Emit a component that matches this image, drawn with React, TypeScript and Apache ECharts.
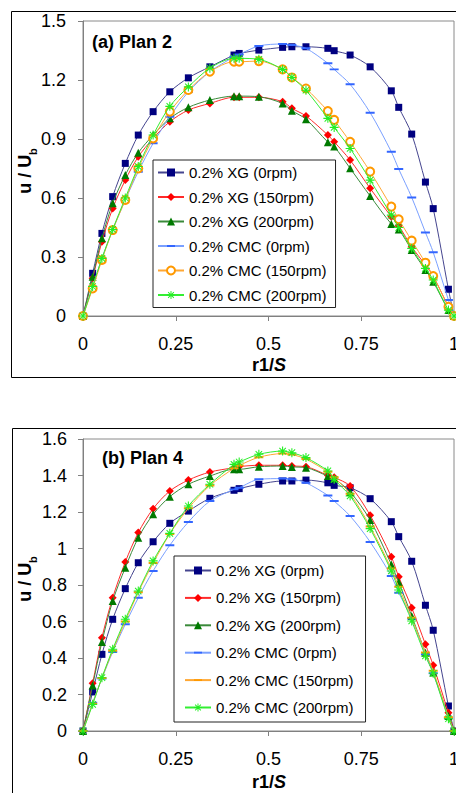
import React, { useEffect, useRef } from 'react';
import * as echarts from 'echarts';

// r1/S positions of the measurement points
const R1S = [0, 0.026, 0.051, 0.08, 0.114, 0.149, 0.189, 0.234, 0.284, 0.342, 0.407, 0.421, 0.474, 0.538, 0.563, 0.601, 0.66, 0.677, 0.72, 0.774, 0.831, 0.851, 0.886, 0.923, 0.944, 0.985, 1.0];

const SERIES_NAMES = ['0.2% XG (0rpm)', '0.2% XG (150rpm)', '0.2% XG (200rpm)', '0.2% CMC (0rpm)', '0.2% CMC (150rpm)', '0.2% CMC (200rpm)'];

// (a) Plan 2
const P2_XG0 = [0, 0.217, 0.42, 0.607, 0.776, 0.92, 1.039, 1.14, 1.211, 1.267, 1.327, 1.335, 1.352, 1.366, 1.369, 1.369, 1.361, 1.349, 1.327, 1.267, 1.145, 1.061, 0.925, 0.681, 0.546, 0.136, 0];
const P2_XG150 = [0, 0.192, 0.378, 0.547, 0.691, 0.81, 0.903, 0.988, 1.047, 1.081, 1.112, 1.112, 1.112, 1.09, 1.056, 1.017, 0.92, 0.886, 0.793, 0.649, 0.505, 0.459, 0.352, 0.259, 0.203, 0.047, 0];
const P2_XG200 = [0, 0.2, 0.395, 0.573, 0.717, 0.83, 0.92, 1.005, 1.061, 1.098, 1.118, 1.118, 1.115, 1.081, 1.044, 1.001, 0.884, 0.862, 0.751, 0.61, 0.468, 0.44, 0.336, 0.234, 0.174, 0.03, 0];
const P2_CMC0 = [0, 0.149, 0.293, 0.437, 0.59, 0.734, 0.878, 1.013, 1.14, 1.242, 1.318, 1.33, 1.373, 1.383, 1.378, 1.361, 1.285, 1.254, 1.178, 1.034, 0.835, 0.747, 0.603, 0.425, 0.324, 0.081, 0];
const P2_CMC150 = [0, 0.14, 0.285, 0.437, 0.59, 0.75, 0.903, 1.039, 1.149, 1.242, 1.293, 1.293, 1.296, 1.254, 1.213, 1.157, 1.042, 0.997, 0.886, 0.734, 0.556, 0.492, 0.383, 0.271, 0.203, 0.047, 0];
const P2_CMC200 = [0, 0.15, 0.293, 0.44, 0.6, 0.76, 0.92, 1.066, 1.165, 1.26, 1.31, 1.31, 1.305, 1.254, 1.213, 1.148, 1.005, 0.959, 0.852, 0.691, 0.513, 0.45, 0.344, 0.242, 0.183, 0.03, 0];

// (b) Plan 4
const P4_XG0 = [0, 0.214, 0.42, 0.612, 0.78, 0.922, 1.037, 1.138, 1.205, 1.275, 1.319, 1.328, 1.352, 1.37, 1.37, 1.375, 1.36, 1.346, 1.333, 1.273, 1.147, 1.065, 0.93, 0.689, 0.552, 0.137, 0];
const P4_XG150 = [0, 0.261, 0.511, 0.73, 0.926, 1.087, 1.218, 1.315, 1.375, 1.419, 1.443, 1.449, 1.456, 1.456, 1.452, 1.448, 1.401, 1.39, 1.342, 1.182, 0.955, 0.845, 0.676, 0.475, 0.36, 0.1, 0];
const P4_XG200 = [0, 0.25, 0.488, 0.712, 0.895, 1.059, 1.187, 1.284, 1.352, 1.397, 1.434, 1.434, 1.448, 1.452, 1.447, 1.443, 1.397, 1.383, 1.31, 1.156, 0.913, 0.816, 0.63, 0.429, 0.32, 0.082, 0];
const P4_CMC0 = [0, 0.155, 0.287, 0.433, 0.585, 0.73, 0.877, 1.018, 1.145, 1.26, 1.324, 1.333, 1.379, 1.383, 1.38, 1.36, 1.291, 1.26, 1.178, 1.036, 0.849, 0.758, 0.616, 0.42, 0.316, 0.073, 0];
const P4_CMC150 = [0, 0.15, 0.29, 0.44, 0.6, 0.76, 0.92, 1.08, 1.22, 1.345, 1.44, 1.455, 1.5, 1.52, 1.515, 1.49, 1.42, 1.39, 1.3, 1.12, 0.89, 0.79, 0.62, 0.43, 0.33, 0.075, 0];
const P4_CMC200 = [0, 0.146, 0.292, 0.448, 0.612, 0.767, 0.932, 1.083, 1.233, 1.352, 1.461, 1.474, 1.516, 1.534, 1.525, 1.498, 1.425, 1.379, 1.288, 1.109, 0.877, 0.773, 0.603, 0.411, 0.316, 0.067, 0];

const X_TICKS = [0, 0.25, 0.5, 0.75, 1];

const FONT = '"Liberation Sans", Arial, sans-serif';
const ASTERISK = 'path://M0,4.4L10,4.4L10,5.6L0,5.6Z M4.4,0L5.6,0L5.6,10L4.4,10Z M1,1.8L1.8,1L9,8.2L8.2,9Z M8.2,1L9,1.8L1.8,9L1,8.2Z';
const DASH = 'path://M0,3.9L10,3.9L10,6.1L0,6.1Z M0,0L0.01,0L0,0.01Z M10,10L9.99,10L10,9.99Z';

type Sty = { symbol: string; size: number; marker: string; line: string; empty?: boolean };

const STYLES_A: Sty[] = [
  { symbol: 'rect', size: 7, marker: '#000080', line: '#45458f' },
  { symbol: 'diamond', size: 8, marker: '#ff0000', line: '#ff2a2a' },
  { symbol: 'triangle', size: 8, marker: '#007a00', line: '#3a8a3a' },
  { symbol: DASH, size: 9, marker: '#3366ff', line: '#7aa0ff' },
  { symbol: 'emptyCircle', size: 8, marker: '#ff9900', line: '#ffa733', empty: true },
  { symbol: ASTERISK, size: 9, marker: '#22ee22', line: '#33ee33' },
];
const STYLES_B: Sty[] = [
  STYLES_A[0], STYLES_A[1], STYLES_A[2], STYLES_A[3],
  { symbol: DASH, size: 9, marker: '#ff9900', line: '#ffa733' },
  STYLES_A[5],
];

interface Cfg {
  values: number[][];
  styles: Sty[];
  yMax: number;
  yInterval: number;
  gridTop: number;
  gridHeight: number;
  labelMarginY: number;
  boxY: number;
  boxH: number;
  boxX: number;
  title: string;
  titleX: number;
  titleY: number;
  yTitleY: number;
  xTitleY: number;
  legend: { left: number; top: number; padding: number[]; gap: number };
}

function buildOption(c: Cfg): any {
  const fmt = (v: number) => String(+v.toFixed(2));
  return {
    animation: false,
    grid: {
      left: 83, top: c.gridTop, width: 371, height: c.gridHeight,
      outerBoundsMode: 'none', containLabel: false,
      show: true, borderColor: '#8a8a8a', borderWidth: 1, backgroundColor: '#ffffff',
    },
    xAxis: {
      type: 'value', min: X_TICKS[0], max: X_TICKS[X_TICKS.length - 1], interval: 0.25,
      axisLine: { show: true, lineStyle: { color: '#808080', width: 1 } },
      axisTick: { show: true, length: 5, lineStyle: { color: '#808080' } },
      axisLabel: { fontSize: 18, color: '#000', fontFamily: FONT, margin: 19, formatter: fmt, hideOverlap: false },
      splitLine: { show: false },
    },
    yAxis: {
      type: 'value', min: 0, max: c.yMax, interval: c.yInterval,
      axisLine: { show: true, lineStyle: { color: '#808080', width: 1 } },
      axisTick: { show: true, length: 5, lineStyle: { color: '#808080' } },
      axisLabel: { fontSize: 18, color: '#000', fontFamily: FONT, margin: c.labelMarginY, formatter: fmt },
      splitLine: { show: false },
    },
    legend: {
      orient: 'vertical', left: c.legend.left, top: c.legend.top,
      padding: c.legend.padding, itemGap: c.legend.gap,
      itemWidth: 26, itemHeight: 10,
      borderColor: '#222', borderWidth: 1, backgroundColor: '#ffffff',
      textStyle: { fontSize: 15, color: '#000', fontFamily: FONT, lineHeight: 15 },
      data: SERIES_NAMES,
      selectedMode: false,
    },
    graphic: [
      {
        type: 'rect', silent: true, z: -10,
        shape: { x: c.boxX, y: c.boxY, width: 470, height: c.boxH },
        style: { fill: 'none', stroke: '#000', lineWidth: 1 },
      },
      {
        type: 'text', x: c.titleX, y: c.titleY,
        style: { text: c.title, font: `bold 18px ${FONT}`, fill: '#000', verticalAlign: 'middle' },
      },
      {
        type: 'text', x: 27, y: c.yTitleY, rotation: Math.PI / 2,
        style: {
          text: '{m|u / U}{s|b}',
          align: 'center', verticalAlign: 'middle',
          rich: {
            m: { fontSize: 18, fontWeight: 'bold', fontFamily: FONT, fill: '#000', lineHeight: 22, verticalAlign: 'top' },
            s: { fontSize: 11, fontWeight: 'bold', fontFamily: FONT, fill: '#000', lineHeight: 11, verticalAlign: 'bottom' },
          },
        },
      },
      {
        type: 'text', x: 269, y: c.xTitleY,
        style: {
          text: '{m|r1/}{i|S}',
          align: 'center', verticalAlign: 'middle',
          rich: {
            m: { fontSize: 18, fontWeight: 'bold', fontFamily: FONT, fill: '#000' },
            i: { fontSize: 18, fontWeight: 'bold', fontStyle: 'italic', fontFamily: FONT, fill: '#000' },
          },
        },
      },
    ],
    series: SERIES_NAMES.map((name, i) => {
      const s = c.styles[i];
      return {
        type: 'line',
        name,
        data: R1S.map((x, j) => [x, c.values[i][j]]),
        symbol: s.symbol,
        symbolSize: s.size,
        smooth: 0.3,
        clip: false,
        itemStyle: s.empty ? { color: s.marker, borderColor: s.marker, borderWidth: 1 } : { color: s.marker },
        lineStyle: { color: s.line, width: 1 },
        emphasis: { disabled: true },
        z: 2 + i,
      };
    }),
  };
}

const CFG_A: Cfg = {
  values: [P2_XG0, P2_XG150, P2_XG200, P2_CMC0, P2_CMC150, P2_CMC200],
  styles: STYLES_A,
  yMax: 1.5, yInterval: 0.3,
  gridTop: 21, gridHeight: 295, labelMarginY: 17,
  boxX: 11.5, boxY: 11.5, boxH: 366,
  title: '(a) Plan 2', titleX: 92, titleY: 42,
  yTitleY: 171, xTitleY: 365,
  legend: { left: 153, top: 160, padding: [5, 9, 5, 4], gap: 9.5 },
};

const CFG_B: Cfg = {
  values: [P4_XG0, P4_XG150, P4_XG200, P4_CMC0, P4_CMC150, P4_CMC200],
  styles: STYLES_B,
  yMax: 1.6, yInterval: 0.2,
  gridTop: 44, gridHeight: 292, labelMarginY: 16,
  boxX: 12.5, boxY: 33.5, boxH: 420,
  title: '(b) Plan 4', titleX: 102, titleY: 63,
  yTitleY: 184, xTitleY: 387,
  legend: { left: 174, top: 161, padding: [7, 12, 7, 10], gap: 12.4 },
};

function Chart({ cfg, top, height }: { cfg: Cfg; top: number; height: number }) {
  const ref = useRef<HTMLDivElement>(null);
  useEffect(() => {
    if (!ref.current) return;
    const chart = echarts.init(ref.current, undefined, { renderer: 'svg' });
    chart.setOption(buildOption(cfg));
    return () => chart.dispose();
  }, [cfg]);
  return <div ref={ref} style={{ position: 'absolute', left: 0, top, width: 456, height }} />;
}

export default function App() {
  return (
    <div style={{ position: 'absolute', left: 0, top: 0, width: 456, height: 793, background: '#fff', overflow: 'hidden' }}>
      <Chart cfg={CFG_A} top={0} height={395} />
      <Chart cfg={CFG_B} top={395} height={398} />
    </div>
  );
}
